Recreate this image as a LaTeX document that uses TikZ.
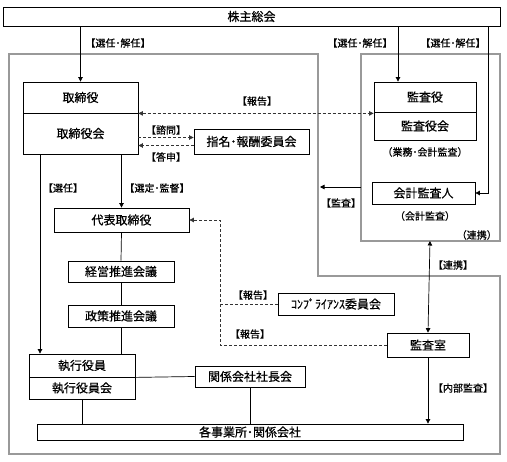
\documentclass[tikz,border=0pt]{standalone}
\usepackage{fontspec}
\setmainfont[FakeBold=0.6]{Noto Sans CJK JP}
\usetikzlibrary{arrows.meta}

\tikzset{
  box/.style={draw, line width=0.8pt, fill=white, inner sep=0pt,
    font=\fontsize{12}{14}\selectfont},
  lbl/.style={inner sep=0pt, font=\fontsize{10}{12}\selectfont},
  frame/.style={draw=black!40, line width=1.6pt},
  arr/.style={line width=0.7pt, -{Triangle[length=4.5pt,width=4.5pt]}},
  arrb/.style={line width=0.7pt, {Triangle[length=4.5pt,width=4.5pt]}-{Triangle[length=4.5pt,width=4.5pt]}},
  dsh/.style={line width=0.7pt, densely dashed, black!80},
  ln/.style={line width=0.7pt}
}

\begin{document}
\begin{tikzpicture}[x=1pt,y=-1pt]
  \useasboundingbox (0,0) rectangle (507,462);
  \fill[white] (0,0) rectangle (507,462);

  % gray frames
  \draw[frame] (9,54) -- (318,54) -- (318,276) -- (500,276) -- (500,454) -- (9,454) -- cycle;
  \draw[frame] (361,54) rectangle (500,241);
  \coordinate (kbottom) at (430,241);
  \coordinate (kansaA) at (361,187);
  \coordinate (kansaB) at (320,187);
  \coordinate (kline) at (488,0);
  \coordinate (sline) at (40,0);
  \coordinate (rline) at (220,0);

  % boxes
  \node[box, minimum width=497pt, minimum height=19pt] (soukai) at (251.5,16.5) {株主総会};
  \node[box, minimum width=115pt, minimum height=31pt] (torishimari) at (80.5,97.5) {取締役};
  \node[box, minimum width=115pt, minimum height=41pt] (torikai) at (80.5,133.5) {取締役会};
  \node[box, minimum width=115pt, minimum height=25pt] (shimei) at (251.5,141.5) {指名･報酬委員会};
  \node[box, minimum width=102pt, minimum height=30pt] (kansayaku) at (425,97) {監査役};
  \node[box, minimum width=102pt, minimum height=28pt] (kansakai) at (425,126) {監査役会};
  \node[box, minimum width=103pt, minimum height=22pt] (kaikei) at (423.5,193) {会計監査人};
  \node[box, minimum width=135pt, minimum height=24pt] (daihyou) at (121.5,220) {代表取締役};
  \node[box, minimum width=106pt, minimum height=21pt] (keiei) at (121,271.5) {経営推進会議};
  \node[box, minimum width=106pt, minimum height=22pt] (seisaku) at (121,316) {政策推進会議};
  \node[box, minimum width=116pt, minimum height=22pt] (comp) at (336,304) {ｺﾝﾌﾟﾗｲｱﾝｽ委員会};
  \node[box, minimum width=82pt, minimum height=24pt] (kansashitsu) at (428,345) {監査室};
  \node[box, minimum width=106pt, minimum height=23pt] (shikkouin) at (82,365.5) {執行役員};
  \node[box, minimum width=106pt, minimum height=22pt] (shikkoukai) at (82,388) {執行役員会};
  \node[box, minimum width=110pt, minimum height=21pt] (kankei) at (250,376.5) {関係会社社長会};
  \node[box, minimum width=426pt, minimum height=16pt] (kakuji) at (250,432) {各事業所･関係会社};

  % labels
  \node[lbl] (l1) at (118,43) {【選任･解任】};
  \node[lbl] (l2) at (360,43) {【選任･解任】};
  \node[lbl] (l3) at (453,43) {【選任･解任】};
  \node[lbl] (l4) at (257,101) {【報告】};
  \node[lbl] (l5) at (166,130) {【諮問】};
  \node[lbl] (l6) at (166,157) {【答申】};
  \node[lbl] (l7) at (63,188) {【選任】};
  \node[lbl] (l8) at (157,188) {【選定･監督】};
  \node[lbl] (l9) at (425,152) {（業務･会計監査）};
  \node[lbl] (l10) at (425,216) {（会計監査）};
  \node[lbl, anchor=east] (l11) at (497,235) {（連携）};
  \node[lbl] (l12) at (341,203) {【監査】};
  \node[lbl] (l13) at (453,265) {【連携】};
  \node[lbl] (l14) at (253,295) {【報告】};
  \node[lbl] (l15) at (250,334) {【報告】};
  \node[lbl] (l16) at (463,388) {【内部監査】};

  % connectors
  \draw[arr] (soukai.south -| torishimari.north) -- (torishimari.north);
  \draw[arr] (soukai.south -| 398,0) -- ([xshift=-27pt]kansayaku.north);
  \draw[arr] (soukai.south -| kline) |- (kaikei.east);
  \draw[dsh, arrb] (torishimari.south east) -- (torishimari.south east -| kansayaku.west);
  \draw[dsh, arr] ([yshift=4pt]torikai.east |- shimei.west) -- ([yshift=4pt]shimei.west);
  \draw[dsh, arr] ([yshift=-4pt]shimei.west) -- ([yshift=-4pt]torikai.east |- shimei.west);
  \draw[arr] (torikai.south -| sline) -- (shikkouin.north -| sline);
  \draw[arr] (torikai.south -| daihyou.north) -- (daihyou.north);
  \draw[ln] (daihyou.south) -- (keiei.north);
  \draw[ln] (keiei.south) -- (seisaku.north);
  \draw[ln] (seisaku.south) -- (seisaku.south |- shikkouin.north);
  \draw[arr] (kansaA) -- (kansaB);
  \draw[dsh, arr] (kansashitsu.west) -| (daihyou.east -| rline) -- (daihyou.east);
  \draw[dsh] (comp.west) -- (comp.west -| rline);
  \draw[arrb] (kansashitsu.north) -- (kbottom);
  \draw[arr] (kansashitsu.south) -- (kansashitsu.south |- kakuji.north);
  \draw[ln] (shikkouin.south east) -- (kankei.west);
  \draw[ln] (shikkoukai.south) -- (shikkoukai.south |- kakuji.north);
  \draw[ln] (kankei.south) -- (kankei.south |- kakuji.north);
\end{tikzpicture}
\end{document}
